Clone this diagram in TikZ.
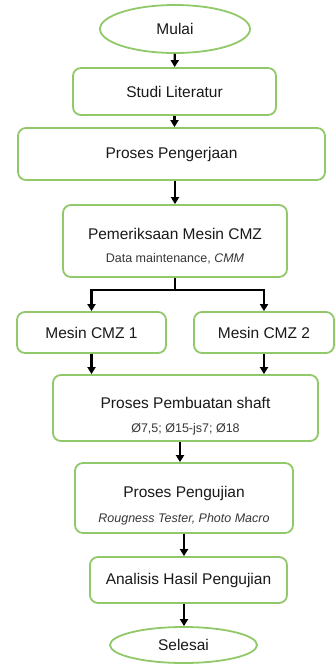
\documentclass[tikz,border=0pt]{standalone}
\usepackage{fontspec}
\setmainfont{Liberation Sans}
\usetikzlibrary{shapes.geometric,arrows.meta}
\definecolor{boxgreen}{RGB}{145,200,105}
\definecolor{txtgray}{RGB}{25,25,25}
\definecolor{subgray}{RGB}{55,55,55}
\newcommand{\subtxt}[1]{{\fontsize{12.5}{14}\selectfont\color{subgray}#1}}
\newcommand{\topgap}[1]{\rule{0pt}{#1}}
\tikzset{
  proc/.style={draw=boxgreen, line width=1.8pt, rounded corners=8pt, fill=white,
    text=txtgray, font=\fontsize{15.5}{18}\selectfont, align=center, inner sep=0pt},
  term/.style={proc, ellipse, rounded corners=0pt},
  arr/.style={-{Triangle[length=7pt,width=8pt]}, line width=2.2pt},
}
\begin{document}
\begin{tikzpicture}[x=1pt,y=-1pt]
    \useasboundingbox (0,0) rectangle (336,664);

    \node[term, minimum width=150pt, minimum height=48pt] (mulai) at (175,29) {Mulai};
    \node[proc, minimum width=203pt, minimum height=47pt] (studi) at (174.5,91.5) {Studi Literatur};
    \node[proc, minimum width=307pt, minimum height=52pt] (proses) at (171.5,154) {Proses Pengerjaan};
    \node[proc, minimum width=224pt, minimum height=72pt] (periksa) at (175,241)
        {\topgap{22pt}Pemeriksaan Mesin CMZ\\[5pt]\subtxt{Data maintenance, \textit{CMM}}};
    \node[proc, minimum width=149pt, minimum height=41pt] (cmz1) at (91.5,332.5) {Mesin CMZ 1};
    \node[proc, minimum width=140pt, minimum height=41pt] (cmz2) at (264,332.5) {Mesin CMZ 2};
    \node[proc, minimum width=265pt, minimum height=66pt] (buat) at (185.5,408)
        {\topgap{28pt}Proses Pembuatan shaft\\[6pt]\subtxt{Ø7,5; Ø15-js7; Ø18}};
    \node[proc, minimum width=218pt, minimum height=70pt] (uji) at (184,498)
        {\topgap{26pt}Proses Pengujian\\[7pt]\subtxt{\textit{Rougness Tester, Photo Macro}}};
    \node[proc, minimum width=197pt, minimum height=46pt] (analisis) at (188.5,580) {Analisis Hasil Pengujian};
    \node[term, minimum width=147pt, minimum height=36pt] (selesai) at (183.5,645) {Selesai};

    \draw[arr] (mulai) -- (studi);
    \draw[arr] (studi) -- (studi |- proses.north);
    \draw[arr] (proses.south -| periksa) -- (periksa);

    % cabang ke dua mesin
    \coordinate (cabang) at (175,290);
    \draw[line width=2.2pt] (periksa.south) -- (cabang);
    \draw[arr] (cabang) -| (cmz1.north);
    \draw[arr] (cabang) -| (cmz2.north);

    \draw[arr] (cmz1.south) -- (cmz1.south |- buat.north);
    \draw[arr] (cmz2.south) -- (cmz2.south |- buat.north);
    \draw[arr] (buat.south -| 180,0) -- (uji.north -| 180,0);
    \draw[arr] (uji.south -| 184,0) -- (analisis.north -| 184,0);
    \draw[arr] (analisis.south -| 184,0) -- (selesai.north -| 184,0);
\end{tikzpicture}
\end{document}
